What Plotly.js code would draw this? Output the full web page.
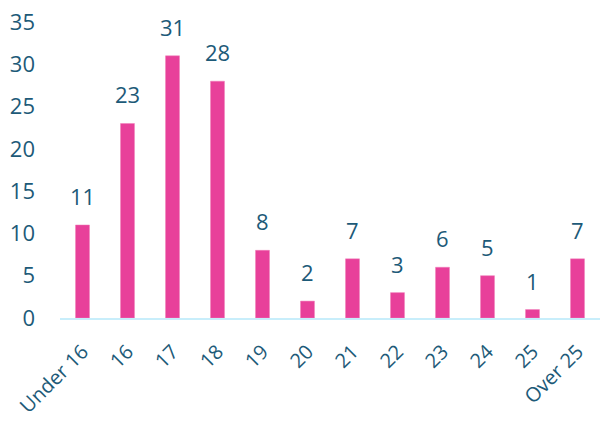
<!DOCTYPE html>
<html>
<head>
<meta charset="utf-8">
<script src="https://cdn.plot.ly/plotly-3.0.1.min.js"></script>
<style>html,body{margin:0;padding:0;background:#fff;}#chart{width:600px;height:421px;}</style>
</head>
<body>
<div id="chart"></div>
<script>
const categories = ["Under 16","16","17","18","19","20","21","22","23","24","25","Over 25"];
const values = [11,23,31,28,8,2,7,3,6,5,1,7];
const yTicks = [0,5,10,15,20,25,30,35];

const textColor = "#1d5a78";
const fontFamily = "'Open Sans', sans-serif";

const trace = {
  type: "bar",
  x: categories,
  y: values,
  marker: {color: "#e8409a", line: {color: "#f07cb8", width: 0.5}},
  width: 0.31,
  hoverinfo: "skip"
};

const annotations = categories.map((c, i) => ({
  x: i, y: values[i], text: String(values[i]),
  showarrow: false, yanchor: "bottom", yshift: 12,
  font: {family: fontFamily, size: 22, color: textColor}
}));

const layout = {
  width: 600, height: 421,
  margin: {l: 60, r: 0, t: 22, b: 103},
  paper_bgcolor: "#ffffff", plot_bgcolor: "#ffffff",
  showlegend: false,
  font: {family: fontFamily, size: 22, color: textColor},
  xaxis: {
    type: "category", tickangle: -45, showgrid: false, zeroline: false,
    showline: true, linecolor: "#c8eefb", linewidth: 2,
    ticks: "", ticklabelstandoff: 12, tickmode: "linear", dtick: 1,
    range: [-0.5, categories.length - 0.5],
    tickfont: {family: fontFamily, size: 20, color: textColor}
  },
  yaxis: {
    range: [0, 35], tickvals: yTicks, showgrid: false, zeroline: false,
    showline: false, ticks: "", ticklabelstandoff: 24,
    tickfont: {family: fontFamily, size: 22, color: textColor}
  },
  annotations: annotations
};

Plotly.newPlot("chart", [trace], layout, {displayModeBar: false, staticPlot: true});
</script>
</body>
</html>
